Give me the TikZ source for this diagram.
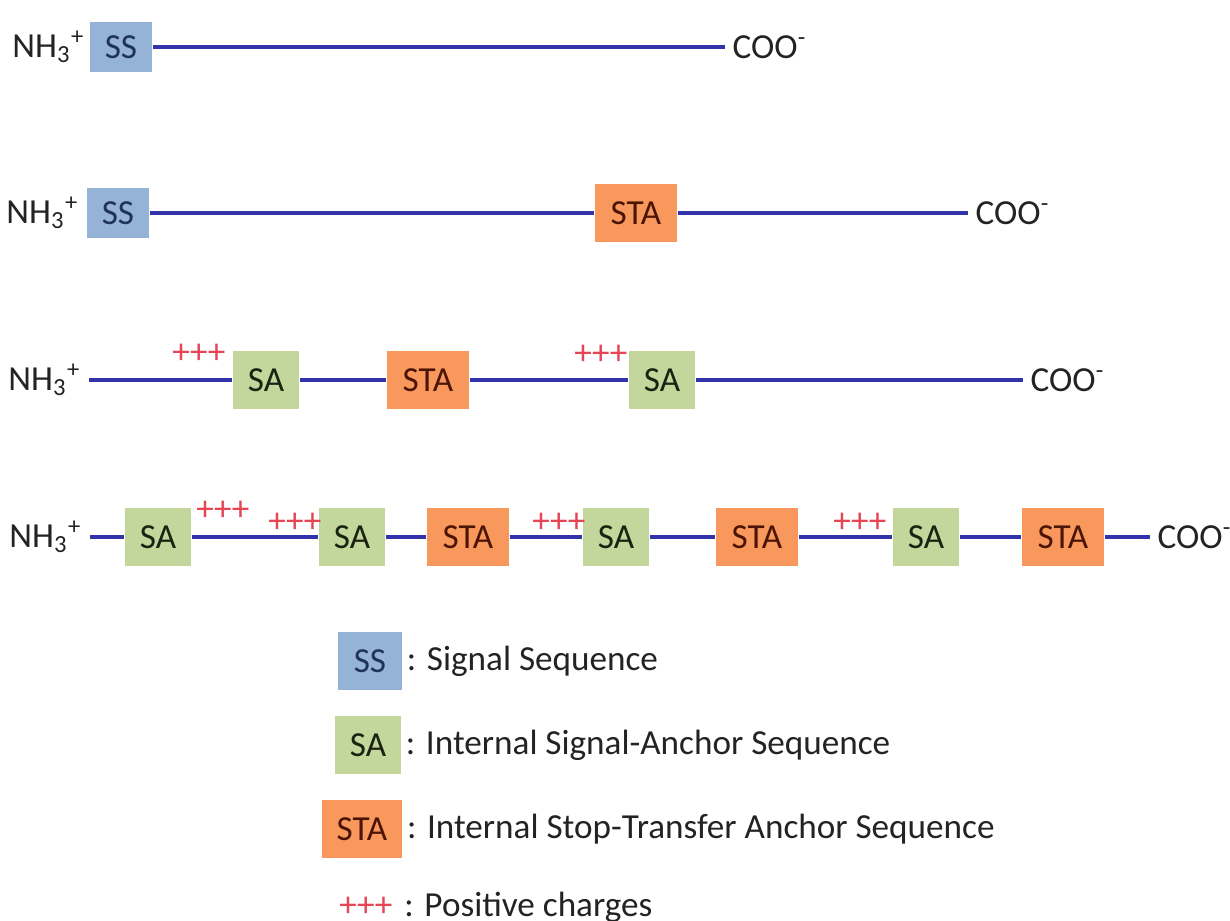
\documentclass[tikz,border=0pt]{standalone}
\usepackage{fontspec}
\setmainfont{Carlito}
\usetikzlibrary{positioning}

\definecolor{ssblue}{RGB}{149,179,215}
\definecolor{sagreen}{RGB}{195,214,155}
\definecolor{staorange}{RGB}{248,152,92}
\definecolor{ssink}{RGB}{31,50,90}
\definecolor{saink}{RGB}{25,35,15}
\definecolor{staink}{RGB}{75,20,5}
\definecolor{termink}{RGB}{35,35,35}
\definecolor{chainblue}{RGB}{50,50,170}
\definecolor{plusred}{RGB}{228,70,85}

\begin{document}
\begin{tikzpicture}[x=0.01cm, y=-0.01cm,
		every node/.style={font=\fontsize{10}{12}\selectfont},
		seg/.style={inner sep=0pt, minimum height=16.5pt},
		ssbox/.style={seg, fill=ssblue, text=ssink, minimum width=17.9pt, minimum height=14.2pt},
		sabox/.style={seg, fill=sagreen, text=saink, minimum width=18.8pt},
		stabox/.style={seg, fill=staorange, text=staink, minimum width=23.3pt},
		term/.style={inner sep=2pt, text=termink},
		charges/.style={inner sep=0pt, text=plusred},
		keytext/.style={inner sep=1pt, text=termink},
		backbone/.style={chainblue, line width=1.3pt}]
	\useasboundingbox (0,0) rectangle (1230,921);

	% protein with signal sequence only
	\node[term, anchor=east] (nh1) at (93,47) {NH\textsubscript{3}\textsuperscript{+}};
	\node[ssbox] (ss1) at (121,47) {SS};
	\node[term, anchor=west] (coo1) at (725,47) {COO\textsuperscript{-}};
	\draw[backbone] (ss1) -- (coo1);

	% signal sequence + stop-transfer
	\node[term, anchor=east] (nh2) at (87,213) {NH\textsubscript{3}\textsuperscript{+}};
	\node[ssbox] (ss2) at (118,213) {SS};
	\node[stabox] (sta21) at (636,213) {STA};
	\node[term, anchor=west] (coo2) at (968,213) {COO\textsuperscript{-}};
	\draw[backbone] (ss2) -- (sta21) -- (coo2);

	% internal signal-anchor
	\node[term, anchor=east] (nh3) at (89,380) {NH\textsubscript{3}\textsuperscript{+}};
	\node[sabox] (sa31) at (266,380) {SA};
	\node[stabox] (sta31) at (428,380) {STA};
	\node[sabox] (sa32) at (662,380) {SA};
	\node[term, anchor=west] (coo3) at (1023,380) {COO\textsuperscript{-}};
	\node[charges] (p31) at (199,354) {+++};
	\node[charges] (p32) at (601,355) {+++};
	\draw[backbone] (nh3) -- (sa31) -- (sta31) -- (sa32) -- (coo3);

	% multi-spanning
	\node[term, anchor=east] (nh4) at (90,537) {NH\textsubscript{3}\textsuperscript{+}};
	\node[sabox] (sa41) at (158,537) {SA};
	\node[sabox] (sa42) at (352,537) {SA};
	\node[stabox] (sta41) at (468,537) {STA};
	\node[sabox] (sa43) at (616,537) {SA};
	\node[stabox] (sta42) at (757,537) {STA};
	\node[sabox] (sa44) at (926,537) {SA};
	\node[stabox] (sta43) at (1063,537) {STA};
	\node[term, anchor=west] (coo4) at (1150,537) {COO\textsuperscript{-}};
	\node[charges] (p41) at (223,511) {+++};
	\node[charges] (p42) at (295,523) {+++};
	\node[charges] (p43) at (559,523) {+++};
	\node[charges] (p44) at (860,523) {+++};
	\draw[backbone] (nh4) -- (sa41) -- (sa42) -- (sta41) -- (sa43) -- (sta42) -- (sa44) -- (sta43) -- (coo4);

	% key
	\node[ssbox, minimum width=18.2pt, minimum height=16.5pt] (keyss) at (370,661) {SS};
	\node[sabox] (keysa) at (368,745) {SA};
	\node[stabox, minimum width=22.8pt] (keysta) at (362,829) {STA};
	\node[charges] (keyplus) at (366,907) {+++};
	\node[keytext, right=0pt of keyss] (txtss) {: Signal Sequence};
	\node[keytext, right=0pt of keysa] (txtsa) {: Internal Signal-Anchor Sequence};
	\node[keytext, right=0pt of keysta] (txtsta) {: Internal Stop-Transfer Anchor Sequence};
	\node[keytext, right=2pt of keyplus] (txtplus) {: Positive charges};
\end{tikzpicture}
\end{document}
